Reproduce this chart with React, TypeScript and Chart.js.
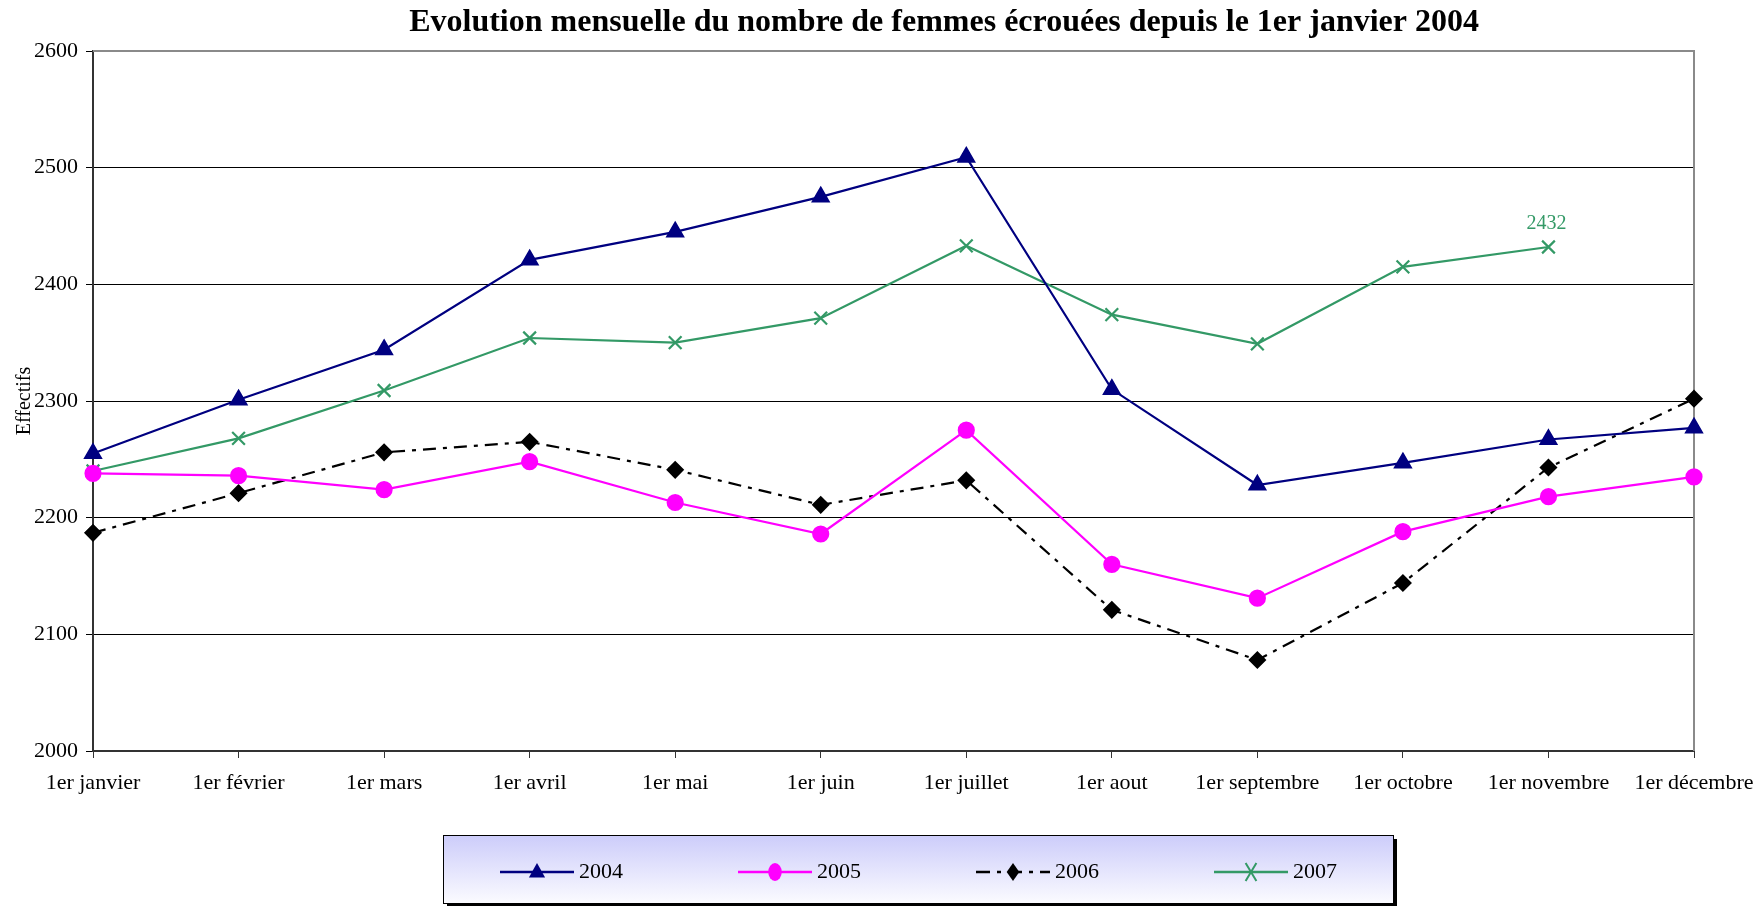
import React, { useEffect, useRef } from 'react';
import { Chart, registerables } from 'chart.js';

Chart.register(...registerables);

const FONT = "'Liberation Serif', 'Times New Roman', serif";

const titleText = 'Evolution mensuelle du nombre de femmes écrouées depuis le 1er janvier 2004';
const yAxisTitle = 'Effectifs';

const categories = [
  '1er janvier', '1er février', '1er mars', '1er avril', '1er mai', '1er juin',
  '1er juillet', '1er aout', '1er septembre', '1er octobre', '1er novembre', '1er décembre',
];

const seriesNames = ['2004', '2005', '2006', '2007'];
const values2004 = [2255, 2301, 2344, 2421, 2445, 2475, 2509, 2310, 2228, 2247, 2267, 2277];
const values2005 = [2238, 2236, 2224, 2248, 2213, 2186, 2275, 2160, 2131, 2188, 2218, 2235];
const values2006 = [2187, 2221, 2256, 2265, 2241, 2211, 2232, 2121, 2078, 2144, 2243, 2302];
const values2007 = [2240, 2268, 2309, 2354, 2350, 2371, 2433, 2374, 2349, 2415, 2432, null];

const yTicks = [2000, 2100, 2200, 2300, 2400, 2500, 2600];

// label shown on one point: [dataset index, point index]
const labelledPoint = [3, 10];

function drawMarker(ctx: CanvasRenderingContext2D, style: string, x: number, y: number, r: number, color: string) {
  ctx.save();
  ctx.setLineDash([]);
  ctx.fillStyle = color;
  ctx.strokeStyle = color;
  ctx.lineWidth = 2;
  ctx.beginPath();
  if (style === 'triangle') {
    ctx.moveTo(x, y - r);
    ctx.lineTo(x + r * 0.9, y + r * 0.6);
    ctx.lineTo(x - r * 0.9, y + r * 0.6);
    ctx.closePath();
    ctx.fill();
  } else if (style === 'circle') {
    ctx.ellipse(x, y, r * 0.75, r, 0, 0, Math.PI * 2);
    ctx.fill();
  } else if (style === 'rectRot') {
    ctx.moveTo(x, y - r);
    ctx.lineTo(x + r * 0.7, y);
    ctx.lineTo(x, y + r);
    ctx.lineTo(x - r * 0.7, y);
    ctx.closePath();
    ctx.fill();
  } else if (style === 'crossRot') {
    ctx.moveTo(x - r * 0.6, y - r);
    ctx.lineTo(x + r * 0.6, y + r);
    ctx.moveTo(x + r * 0.6, y - r);
    ctx.lineTo(x - r * 0.6, y + r);
    ctx.stroke();
  }
  ctx.restore();
}

const decorPlugin = {
  id: 'decor',
  beforeDatasetsDraw(chart: any) {
    const { ctx, chartArea } = chart;
    ctx.save();
    ctx.strokeStyle = '#8a8a8a';
    ctx.lineWidth = 2;
    ctx.beginPath();
    ctx.moveTo(chartArea.left, chartArea.top);
    ctx.lineTo(chartArea.right, chartArea.top);
    ctx.lineTo(chartArea.right, chartArea.bottom);
    ctx.stroke();
    ctx.restore();
  },
  afterDraw(chart: any) {
    const { ctx } = chart;
    const W = chart.width;
    ctx.save();
    // title
    ctx.fillStyle = '#000';
    ctx.font = `bold 32px ${FONT}`;
    ctx.textAlign = 'center';
    ctx.textBaseline = 'middle';
    ctx.fillText(titleText, W * 0.5358, 23);

    // data label
    const [di, pi] = labelledPoint;
    const el = chart.getDatasetMeta(di).data[pi];
    const ds = chart.data.datasets[di];
    ctx.font = `20px ${FONT}`;
    ctx.fillStyle = ds.borderColor;
    ctx.textBaseline = 'middle';
    ctx.fillText(String(ds.data[pi]), el.x - 2, el.y - 23);

    // legend
    const bx = 443, by = 835, bw = 950, bh = 68;
    ctx.fillStyle = '#000';
    ctx.fillRect(bx + 4, by + 4, bw, bh);
    const g = ctx.createLinearGradient(0, by, 0, by + bh);
    g.addColorStop(0, '#ccccfa');
    g.addColorStop(1, '#fbfbff');
    ctx.fillStyle = g;
    ctx.fillRect(bx, by, bw, bh);
    ctx.strokeStyle = '#000';
    ctx.lineWidth = 1;
    ctx.strokeRect(bx + 0.5, by + 0.5, bw, bh);

    const cy = by + 37;
    chart.data.datasets.forEach((d: any, i: number) => {
      const x0 = 500 + i * 238;
      const x1 = x0 + 74;
      ctx.save();
      ctx.strokeStyle = d.borderColor;
      ctx.lineWidth = 2.5;
      ctx.setLineDash(d.borderDash ? [14, 7, 4, 7] : []);
      ctx.beginPath();
      ctx.moveTo(x0, cy);
      ctx.lineTo(x1, cy);
      ctx.stroke();
      ctx.restore();
      drawMarker(ctx, d.pointStyle, (x0 + x1) / 2, cy, 9, d.pointBackgroundColor);
      ctx.fillStyle = '#000';
      ctx.font = `22px ${FONT}`;
      ctx.textAlign = 'left';
      ctx.textBaseline = 'middle';
      ctx.fillText(d.label, x1 + 5, cy);
    });
    ctx.restore();
  },
};

export default function App() {
  const canvasRef = useRef<HTMLCanvasElement | null>(null);

  useEffect(() => {
    const canvas = canvasRef.current;
    if (!canvas) return;
    const tickFont = { family: FONT, size: 22 };
    const chart = new Chart(canvas, {
      type: 'line',
      data: {
        labels: categories,
        datasets: [
          {
            label: seriesNames[0],
            data: values2004,
            borderColor: '#000080',
            backgroundColor: '#000080',
            pointBackgroundColor: '#000080',
            pointBorderColor: '#000080',
            pointStyle: 'triangle',
            pointRadius: 9,
            borderWidth: 2.2,
            tension: 0,
          },
          {
            label: seriesNames[1],
            data: values2005,
            borderColor: '#ff00ff',
            backgroundColor: '#ff00ff',
            pointBackgroundColor: '#ff00ff',
            pointBorderColor: '#ff00ff',
            pointStyle: 'circle',
            pointRadius: 7.5,
            borderWidth: 2.2,
            tension: 0,
          },
          {
            label: seriesNames[2],
            data: values2006,
            borderColor: '#000000',
            backgroundColor: '#000000',
            pointBackgroundColor: '#000000',
            pointBorderColor: '#000000',
            pointStyle: 'rectRot',
            pointRadius: 7.5,
            borderWidth: 2.2,
            borderDash: [13, 7, 4, 7],
            tension: 0,
          },
          {
            label: seriesNames[3],
            data: values2007,
            borderColor: '#339966',
            backgroundColor: '#339966',
            pointBackgroundColor: '#339966',
            pointBorderColor: '#339966',
            pointStyle: 'crossRot',
            pointRadius: 9,
            pointBorderWidth: 2.2,
            borderWidth: 2.2,
            tension: 0,
            spanGaps: false,
          },
        ],
      },
      options: {
        responsive: false,
        animation: false,
        layout: { padding: { top: 51, right: 68, bottom: 95, left: 0 } },
        plugins: {
          legend: { display: false },
          title: { display: false },
          tooltip: { enabled: false },
        },
        scales: {
          x: {
            type: 'category',
            offset: false,
            grid: { display: true, drawOnChartArea: false, drawTicks: true, tickLength: 7, color: '#333', lineWidth: 1 },
            border: { display: true, color: '#333', width: 2 },
            ticks: { font: tickFont, color: '#000', padding: 12, maxRotation: 0, autoSkip: false },
            afterFit: (s: any) => { s.height = 60; s.paddingRight = 0; s.paddingLeft = 0; },
          },
          y: {
            min: yTicks[0],
            max: yTicks[yTicks.length - 1],
            afterBuildTicks: (s: any) => { s.ticks = yTicks.map((v) => ({ value: v })); },
            ticks: { font: tickFont, color: '#000', padding: 8, callback: (v: any) => String(v) },
            grid: { color: '#000', lineWidth: 1, tickLength: 7, drawTicks: true },
            border: { display: true, color: '#333', width: 2 },
            title: { display: true, text: yAxisTitle, font: { family: FONT, size: 20 }, color: '#000', padding: { top: 13, bottom: 0 } },
            afterFit: (s: any) => { s.width = 93; s.paddingTop = 0; s.paddingBottom = 0; },
          },
        },
      },
      plugins: [decorPlugin],
    });
    return () => chart.destroy();
  }, []);

  return (
    <div style={{ position: 'fixed', left: 0, top: 0, width: 1762, height: 906, background: '#fff' }}>
      <canvas ref={canvasRef} width={1762} height={906} />
    </div>
  );
}
